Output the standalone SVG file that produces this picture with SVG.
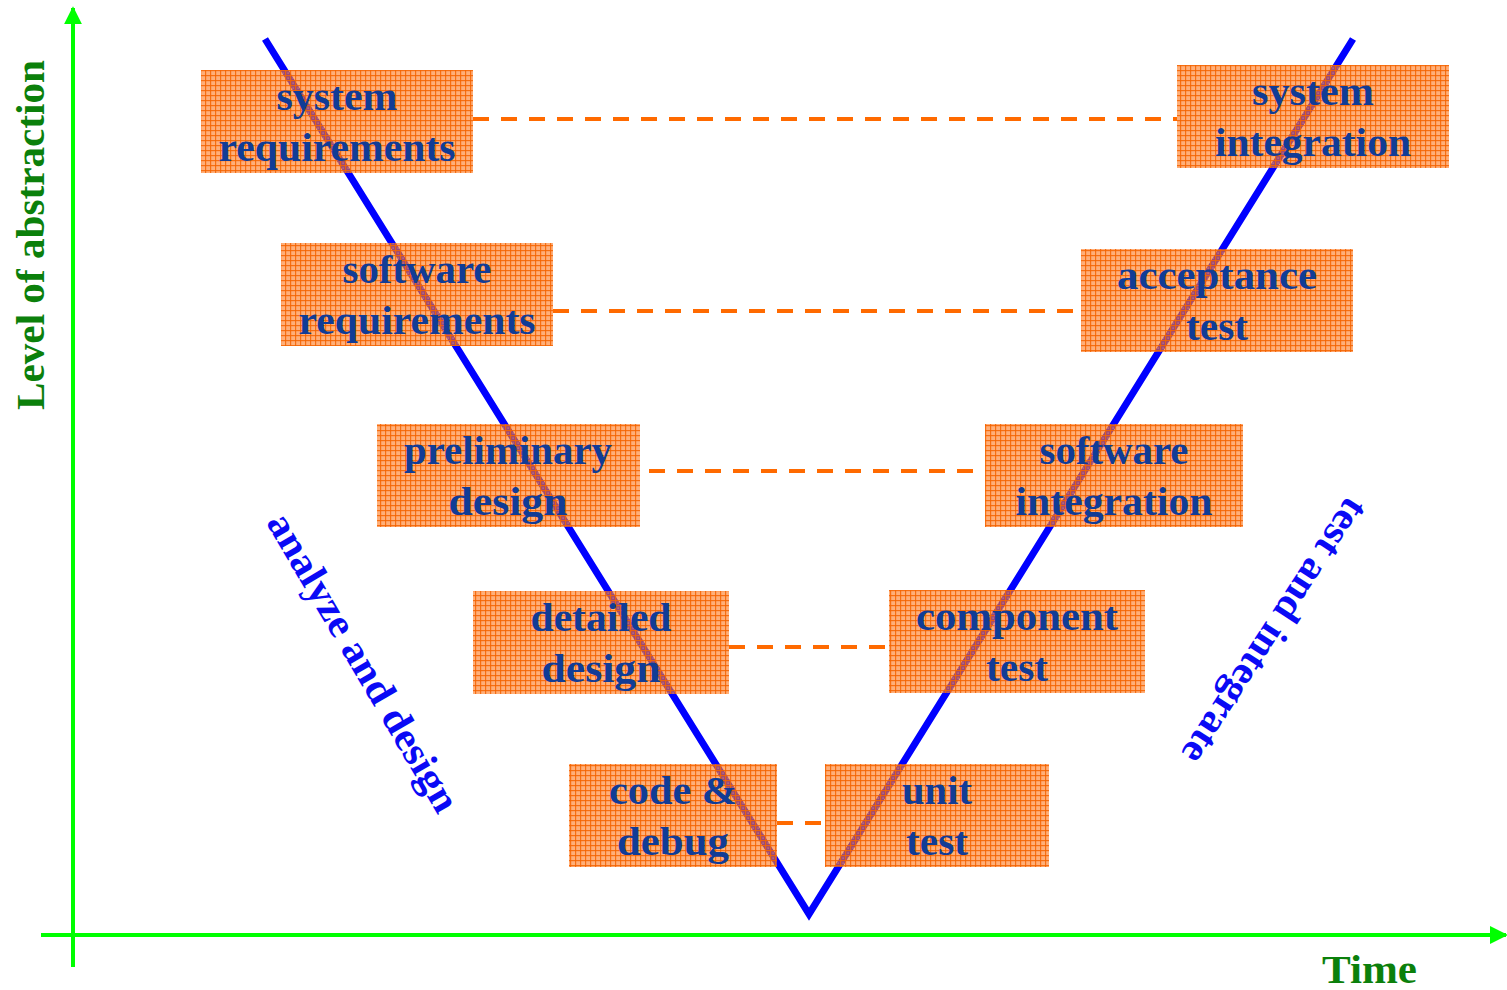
<svg xmlns="http://www.w3.org/2000/svg" width="1507" height="990" viewBox="0 0 1507 990">
  <defs>
    <!-- woven orange texture used for the phase boxes -->
    <pattern id="weave" width="5" height="5" patternUnits="userSpaceOnUse">
      <rect width="5" height="5" fill="#FF7A22" fill-opacity="0.6"/>
      <rect x="0" y="0" width="1.2" height="5" fill="#F56400" fill-opacity="0.85"/>
      <rect x="0" y="0" width="5" height="1.2" fill="#F56400" fill-opacity="0.85"/>
      <rect x="2.5" y="2.5" width="1.2" height="1.2" fill="#FFB070" fill-opacity="0.6"/>
    </pattern>
    <marker id="arrowGreen" viewBox="0 0 10 10" refX="9" refY="5" markerWidth="4.5" markerHeight="4.5" markerUnits="strokeWidth" orient="auto">
      <path d="M0,0 L10,5 L0,10 Z" fill="#00FF00"/>
    </marker>
  </defs>
  <style>
    .box rect { fill: url(#weave); }
    .box text { font-family: "Liberation Serif", "Times New Roman", serif; font-weight: bold; font-size: 40px; fill: #113C96; text-anchor: middle; }
    .link { stroke: #FF6A00; stroke-width: 4; stroke-dasharray: 16 12; fill: none; }
    .axis { stroke: #00FF00; stroke-width: 4; fill: none; }
    .axislabel { font-family: "Liberation Serif", "Times New Roman", serif; font-weight: bold; font-size: 40px; fill: #0B800B; }
    .phase { font-family: "Liberation Serif", "Times New Roman", serif; font-weight: bold; font-size: 40px; fill: #0A0AF5; text-anchor: middle; }
  </style>
  <rect width="1507" height="990" fill="#FFFFFF"/>

  <!-- axes -->
  <g id="axes">
    <line class="axis" x1="73" y1="967" x2="73" y2="8" marker-end="url(#arrowGreen)"/>
    <line class="axis" x1="41" y1="935" x2="1506" y2="935" marker-end="url(#arrowGreen)"/>
    <text class="axislabel" transform="translate(44,235) rotate(-90)" text-anchor="middle" textLength="350" lengthAdjust="spacingAndGlyphs">Level of abstraction</text>
    <text class="axislabel" x="1322" y="983" font-size="42" textLength="95" lengthAdjust="spacingAndGlyphs">Time</text>
  </g>

  <!-- the V -->
  <g id="v-curve">
    <polyline points="265,39 809,914 1353,39" fill="none" stroke="#0000FF" stroke-width="7" stroke-linejoin="miter"/>
  </g>

  <g id="side-labels">
    <text class="phase" transform="translate(352,669) rotate(59.5)" textLength="340" lengthAdjust="spacingAndGlyphs">analyze and design</text>
    <text class="phase" transform="translate(1264,624) rotate(123)" textLength="308" lengthAdjust="spacingAndGlyphs">test and integrate</text>
  </g>

  <!-- dashed links between matching phases -->
  <g id="connectors">
    <line class="link" x1="473" y1="119" x2="1177" y2="119"/>
    <line class="link" x1="553" y1="311" x2="1081" y2="311"/>
    <line class="link" x1="649" y1="471" x2="975" y2="471"/>
    <line class="link" x1="729" y1="647" x2="889" y2="647"/>
    <line class="link" x1="777" y1="823" x2="825" y2="823"/>
  </g>

  <g id="system-requirements" class="box">
    <rect x="201" y="70" width="272" height="103"/>
    <text x="337" y="110" textLength="121" lengthAdjust="spacingAndGlyphs">system</text>
    <text x="337" y="161" textLength="237" lengthAdjust="spacingAndGlyphs">requirements</text>
  </g>
  <g id="software-requirements" class="box">
    <rect x="281" y="243" width="272" height="103"/>
    <text x="417" y="283" textLength="149" lengthAdjust="spacingAndGlyphs">software</text>
    <text x="417" y="334" textLength="237" lengthAdjust="spacingAndGlyphs">requirements</text>
  </g>
  <g id="preliminary-design" class="box">
    <rect x="377" y="424" width="263" height="103"/>
    <text x="508" y="464" textLength="208" lengthAdjust="spacingAndGlyphs">preliminary</text>
    <text x="508" y="515" textLength="119" lengthAdjust="spacingAndGlyphs">design</text>
  </g>
  <g id="detailed-design" class="box">
    <rect x="473" y="591" width="256" height="103"/>
    <text x="601" y="631" textLength="141" lengthAdjust="spacingAndGlyphs">detailed</text>
    <text x="601" y="682" textLength="119" lengthAdjust="spacingAndGlyphs">design</text>
  </g>
  <g id="code-debug" class="box">
    <rect x="569" y="764" width="208" height="103"/>
    <text x="673" y="804" textLength="128" lengthAdjust="spacingAndGlyphs">code &amp;</text>
    <text x="673" y="855" textLength="112" lengthAdjust="spacingAndGlyphs">debug</text>
  </g>
  <g id="unit-test" class="box">
    <rect x="825" y="764" width="224" height="103"/>
    <text x="937" y="804" textLength="70" lengthAdjust="spacingAndGlyphs">unit</text>
    <text x="937" y="855" textLength="62" lengthAdjust="spacingAndGlyphs">test</text>
  </g>
  <g id="component-test" class="box">
    <rect x="889" y="590" width="256" height="103"/>
    <text x="1017" y="630" textLength="202" lengthAdjust="spacingAndGlyphs">component</text>
    <text x="1017" y="681" textLength="62" lengthAdjust="spacingAndGlyphs">test</text>
  </g>
  <g id="software-integration" class="box">
    <rect x="985" y="424" width="258" height="103"/>
    <text x="1114" y="464" textLength="149" lengthAdjust="spacingAndGlyphs">software</text>
    <text x="1114" y="515" textLength="197" lengthAdjust="spacingAndGlyphs">integration</text>
  </g>
  <g id="acceptance-test" class="box">
    <rect x="1081" y="249" width="272" height="103"/>
    <text x="1217" y="289" textLength="200" lengthAdjust="spacingAndGlyphs">acceptance</text>
    <text x="1217" y="340" textLength="62" lengthAdjust="spacingAndGlyphs">test</text>
  </g>
  <g id="system-integration" class="box">
    <rect x="1177" y="65" width="272" height="103"/>
    <text x="1313" y="105" textLength="122" lengthAdjust="spacingAndGlyphs">system</text>
    <text x="1313" y="156" textLength="196" lengthAdjust="spacingAndGlyphs">integration</text>
  </g>
</svg>
